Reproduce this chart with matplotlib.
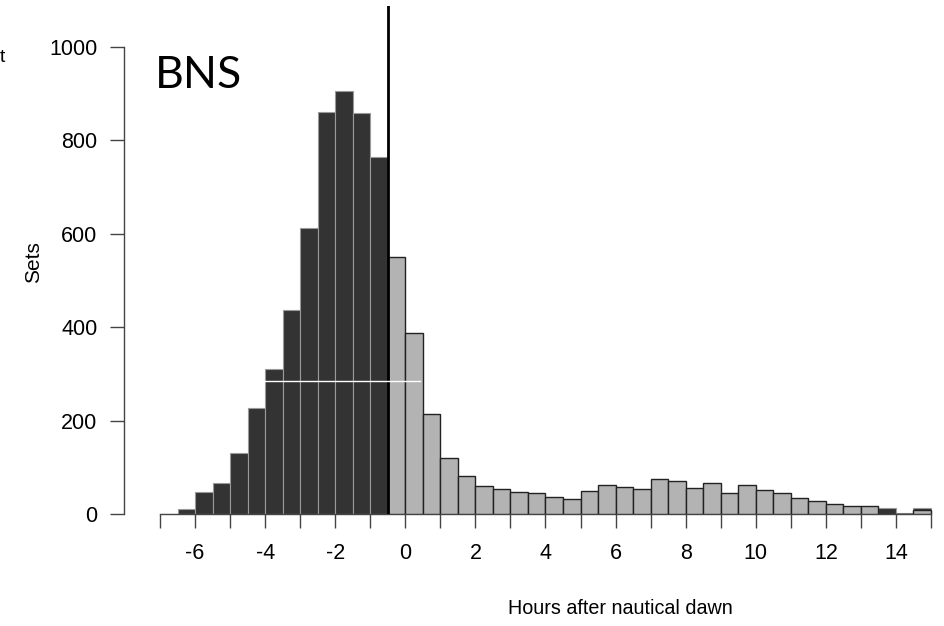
import numpy as np
import matplotlib
matplotlib.use("Agg")
import matplotlib.pyplot as plt

# ---- data ----
bin_width = 0.5
dark_starts = [-7.0, -6.5, -6.0, -5.5, -5.0, -4.5, -4.0, -3.5, -3.0, -2.5, -2.0, -1.5, -1.0,
               13.5, 14.0, 14.5]
dark_counts = [0, 10, 47, 66, 130, 227, 310, 437, 612, 860, 906, 858, 765,
               12, 3, 13]
light_starts = list(np.arange(-0.5, 15.0, 0.5))
light_counts = [550, 388, 214, 120, 81, 60, 54, 47, 45, 37, 32, 49, 62, 58, 53,
                75, 71, 56, 66, 45, 62, 51, 45, 34, 28, 21, 17, 17, 0, 0, 8]
dawn_line = -0.5
x_ticks = list(range(-7, 16))
x_labels = [str(t) if (t % 2 == 0) else "" for t in x_ticks]
y_ticks = [0, 200, 400, 600, 800, 1000]

plt.rcParams['font.family'] = ['Liberation Sans', 'DejaVu Sans']

W, H = 944, 626
fig = plt.figure(figsize=(W / 100, H / 100), dpi=100)

# axes placed in pixel terms
left_px, right_px, top_px, bottom_px = 124, 944, 6, 514
ax = fig.add_axes([left_px / W, (H - bottom_px) / H,
                   (right_px - left_px) / W, (bottom_px - top_px) / H])
px_per_unit = (931 - 160) / 22.0
x0 = -7 - (160 - left_px) / px_per_unit
x1 = 15 + (right_px - 931) / px_per_unit
ax.set_xlim(x0, x1)
ypx = (514 - 47) / 1000.0
ax.set_ylim(0, (bottom_px - top_px) / ypx)

ax.bar(dark_starts, dark_counts, width=bin_width, align='edge',
       color='#333333', edgecolor='#9a9a9a', linewidth=0.8, zorder=2)
ax.bar(light_starts, light_counts, width=bin_width, align='edge',
       color='#b3b3b3', edgecolor='#222222', linewidth=1.0, zorder=3)
ax.axvline(dawn_line, color='black', linewidth=2, zorder=4)

# scanning artifact line in the reference image
ax.plot([-4.0, 0.43], [285, 285], color='white', linewidth=1, zorder=5)

for s in ['top', 'right']:
    ax.spines[s].set_visible(False)
ax.spines['left'].set_bounds(0, 1000)
ax.spines['bottom'].set_bounds(-7, 15)
for s in ['left', 'bottom']:
    ax.spines[s].set_color('#444444')
    ax.spines[s].set_linewidth(1.0)

ax.set_xticks(x_ticks)
ax.set_xticklabels(x_labels)
ax.set_yticks(y_ticks)
ax.set_yticklabels([str(v) for v in y_ticks])
ax.tick_params(axis='x', length=10, width=1, color='#444444', pad=11, labelsize=15.5)
ax.tick_params(axis='y', length=10, width=1, color='#444444', pad=9, labelsize=15.5)

fig.text(620 / W, 1 - 608 / H, 'Hours after nautical dawn', ha='center', va='center', fontsize=14.2)
fig.text(34 / W, 1 - 262 / H, 'Sets', ha='center', va='center', rotation=90, fontsize=15)
fig.text(0 / W, 1 - 57 / H, 't', ha='left', va='center', fontsize=14)
fig.text(155 / W, 1 - 75 / H, 'BNS', ha='left', va='center', fontsize=32,
         family=['Lato', 'DejaVu Sans'])

fig.savefig('out.png', dpi=100)
